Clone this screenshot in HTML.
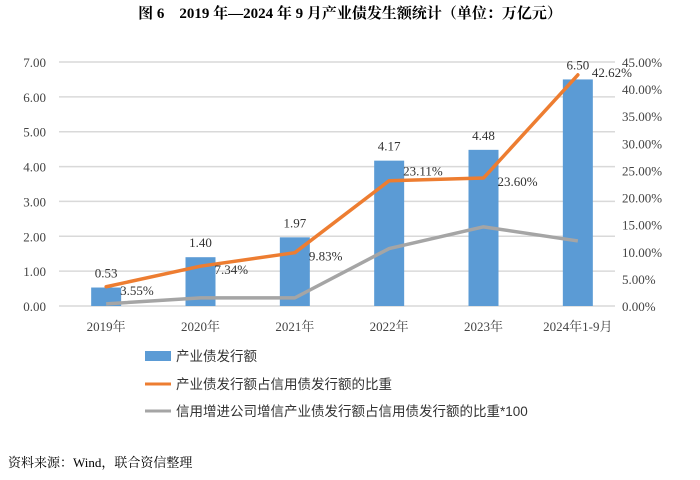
<!DOCTYPE html>
<html><head><meta charset="utf-8">
<style>
body{margin:0;background:#fff;}
svg text{font-family:"Liberation Serif","Noto Serif CJK SC",serif;}
</style></head>
<body>
<svg width="700" height="475" viewBox="0 0 700 475">
<text x="350" y="18" text-anchor="middle" font-size="15" font-weight="bold" fill="#000">图 6　2019 年—2024 年 9 月产业债发生额统计（单位：万亿元）</text>
<g id="grid"></g>
<g id="bars"></g>
<g id="lines"></g>
<g id="labels"></g>
<g font-size="13.5">
 <g><rect x="145" y="351" width="26" height="10" fill="#5b9bd5"/><text x="176" y="361" fill="#333" style="font-family:'Liberation Sans','Noto Sans CJK SC',sans-serif">产业债发行额</text></g>
 <g><line x1="145" y1="384" x2="171" y2="384" stroke="#ed7d31" stroke-width="3"/><text x="176" y="389" fill="#333" style="font-family:'Liberation Sans','Noto Sans CJK SC',sans-serif">产业债发行额占信用债发行额的比重</text></g>
 <g><line x1="145" y1="411" x2="171" y2="411" stroke="#a5a5a5" stroke-width="3"/><text x="176" y="416" fill="#333" style="font-family:'Liberation Sans','Noto Sans CJK SC',sans-serif">信用增进公司增信产业债发行额占信用债发行额的比重*100</text></g>
</g>
<text x="8" y="467" font-size="13" fill="#000" style="font-family:'Liberation Serif','Noto Serif CJK SC',serif">资料来源：Wind，联合资信整理</text>
</svg>
<script>
const categories=["2019年","2020年","2021年","2022年","2023年","2024年1-9月"];
const issuance=[0.53,1.40,1.97,4.17,4.48,6.50];
const shareOrange=[3.55,7.34,9.83,23.11,23.60,42.62];
const shareGray=[0.4,1.5,1.5,10.6,14.6,12.0];
const leftTicks=[0,1,2,3,4,5,6,7];
const rightTicks=[0,5,10,15,20,25,30,35,40,45];
const NS="http://www.w3.org/2000/svg";
const L=59,R=625,T=62,B=306;
const bw=(R-L)/categories.length;
const xc=i=>L+bw*(i+0.5);
const yL=v=>B-(v/7)*(B-T);
const yR=v=>B-(v/45)*(B-T);
function mk(tag,attrs,parent){const e=document.createElementNS(NS,tag);for(const k in attrs)e.setAttribute(k,attrs[k]);parent.appendChild(e);return e;}
const grid=document.getElementById('grid'),bars=document.getElementById('bars'),lines=document.getElementById('lines'),labels=document.getElementById('labels');
leftTicks.forEach(v=>{
 const l=mk('line',{x1:L,x2:R-10,y1:yL(v),y2:yL(v),stroke:'#d9d9d9','stroke-width':1.5},grid);
 
 
 const t=mk('text',{x:L-13,y:yL(v)+5,'text-anchor':'end','font-size':13,fill:'#444'},labels);
 t.textContent=v.toFixed(2);
 
 
});
rightTicks.forEach(v=>{
 const t=mk('text',{x:R-3,y:yR(v)+5,'font-size':13,fill:'#444'},labels);
 t.textContent=v.toFixed(2)+'%';
 
 
});
categories.forEach((c,i)=>{
 const t=mk('text',{x:xc(i),y:B+25,'text-anchor':'middle','font-size':13,fill:'#444'},labels);
 t.textContent=c;
 
 
 const r=mk('rect',{x:xc(i)-15,y:yL(issuance[i]),width:30,height:B-yL(issuance[i]),fill:'#5b9bd5'},bars);
 
 
 const v=mk('text',{x:xc(i),y:yL(issuance[i])-10,'text-anchor':'middle','font-size':13,fill:'#333'},labels);
 v.textContent=issuance[i].toFixed(2);
 
 
 const p=mk('text',{x:xc(i)+14,y:yR(shareOrange[i])+(i==3?-5:i==5?2:8),'font-size':13,fill:'#333'},labels);
 p.textContent=shareOrange[i].toFixed(2)+'%';
 
 
});
const gp=mk('polyline',{points:shareGray.map((v,i)=>xc(i)+','+yR(v)).join(' '),fill:'none',stroke:'#a5a5a5','stroke-width':3.5,'stroke-linejoin':'round'},lines);


const op=mk('polyline',{points:shareOrange.map((v,i)=>xc(i)+','+yR(v)).join(' '),fill:'none',stroke:'#ed7d31','stroke-width':3.5,'stroke-linejoin':'round','stroke-linecap':'round'},lines);


</script>
</body></html>
